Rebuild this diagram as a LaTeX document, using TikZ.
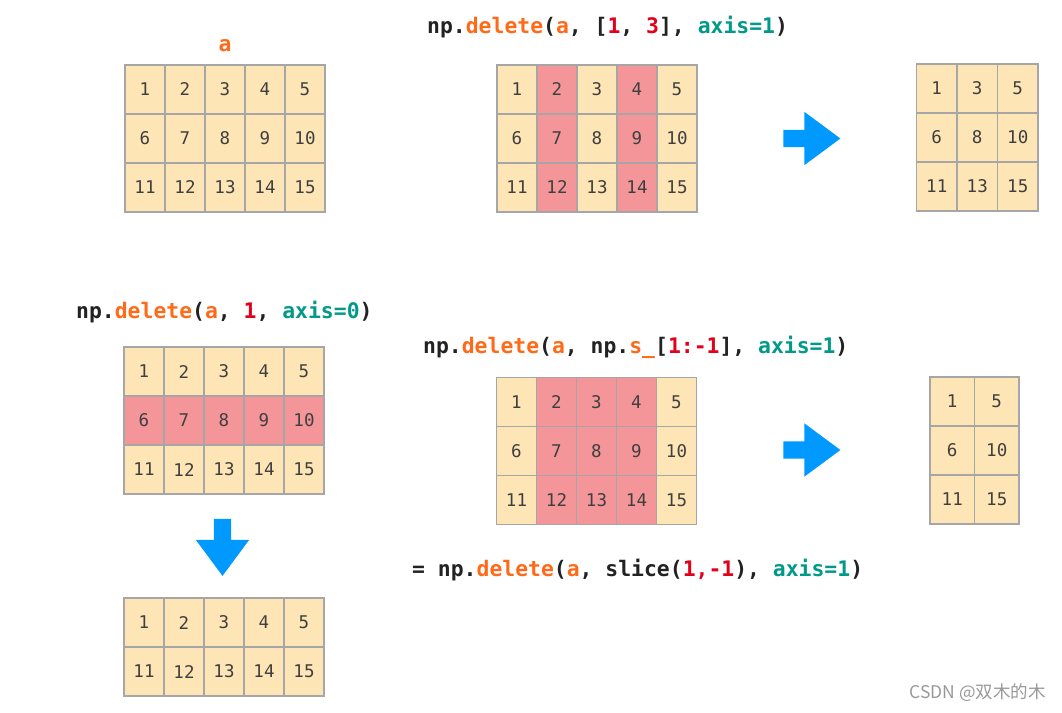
\documentclass[tikz,border=0pt]{standalone}
\usepackage{fontspec}
\setmonofont{DejaVu Sans Mono}
\newfontfamily\cjkfont{Noto Sans CJK SC}
\usetikzlibrary{positioning,shapes.arrows}

\definecolor{cellbg}{HTML}{FEE5B6}
\definecolor{delbg}{HTML}{F49599}
\definecolor{gridgray}{HTML}{A6A6A6}
\definecolor{numgray}{HTML}{3F3F3F}
\definecolor{codeblack}{HTML}{222222}
\definecolor{codeorange}{HTML}{FF6A18}
\definecolor{codered}{HTML}{E3001B}
\definecolor{codeteal}{HTML}{00998A}
\definecolor{arrowblue}{HTML}{0099FF}

\newcommand{\codefont}{\ttfamily\bfseries\fontsize{21.4}{24}\selectfont}
\newcommand{\orng}[1]{\textcolor{codeorange}{#1}}
\newcommand{\rd}[1]{\textcolor{codered}{#1}}
\newcommand{\tl}[1]{\textcolor{codeteal}{#1}}

% grid of numbered cells: name, left x, top y, columns, cell width, value/fill list
\newcommand{\numgrid}[6]{%
  \foreach \v/\f [count=\k from 0] in {#6} {
    \pgfmathtruncatemacro{\col}{mod(\k,#4)}
    \pgfmathtruncatemacro{\row}{div(\k,#4)}
    \node[cell, fill=\f, minimum width=#5pt] (#1-\v)
      at ({#2+(\col+0.5)*#5}, {#3+(\row+0.5)*49}) {\v};
  }}

\begin{document}
\begin{tikzpicture}[x=1pt, y=-1pt, node distance=12pt,
    every node/.style={inner sep=0pt},
    cell/.style={draw=gridgray, line width=1.2pt, minimum height=49pt,
      text=numgray, font=\ttfamily\fontsize{17.5}{20}\selectfont},
    code/.style={anchor=base west, text=codeblack, font=\codefont},
    bigarrow/.style={single arrow, fill=arrowblue, inner sep=8.5pt,
      minimum width=53pt, minimum height=57pt,
      single arrow head extend=18pt, single arrow tip angle=73}]
  \fill[white] (0,0) rectangle (1062,712);
  \useasboundingbox (0,0) rectangle (1062,712);

  % the array a
  \numgrid{a}{125}{65}{5}{40}{1/cellbg,2/cellbg,3/cellbg,4/cellbg,5/cellbg,
    6/cellbg,7/cellbg,8/cellbg,9/cellbg,10/cellbg,
    11/cellbg,12/cellbg,13/cellbg,14/cellbg,15/cellbg}
  \node (alabel) [above=12pt of a-3, text=codeorange, font=\codefont] {a};

  % delete columns 1 and 3
  \node[code] (title1) at (427,33)
    {np.\orng{delete}(\orng{a}, [\rd{1}, \rd{3}], \tl{axis=1})};
  \numgrid{c}{497}{65}{5}{40}{1/cellbg,2/delbg,3/cellbg,4/delbg,5/cellbg,
    6/cellbg,7/delbg,8/cellbg,9/delbg,10/cellbg,
    11/cellbg,12/delbg,13/cellbg,14/delbg,15/cellbg}
  \node[bigarrow] (arr1) at (806,138.5) {};
  \numgrid{d}{916.5}{64}{3}{40.5}{1/cellbg,3/cellbg,5/cellbg,
    6/cellbg,8/cellbg,10/cellbg,11/cellbg,13/cellbg,15/cellbg}

  % delete row 1
  \node[code] (title2) at (76,318)
    {np.\orng{delete}(\orng{a}, \rd{1}, \tl{axis=0})};
  \numgrid{r}{124}{347}{5}{40}{1/cellbg,2/cellbg,3/cellbg,4/cellbg,5/cellbg,
    6/delbg,7/delbg,8/delbg,9/delbg,10/delbg,
    11/cellbg,12/cellbg,13/cellbg,14/cellbg,15/cellbg}
  \node[bigarrow, shape border rotate=270] (arr2) at (222.5,541.5) {};
  \numgrid{s}{124}{598}{5}{40}{1/cellbg,2/cellbg,3/cellbg,4/cellbg,5/cellbg,
    11/cellbg,12/cellbg,13/cellbg,14/cellbg,15/cellbg}

  % delete a slice of columns
  \node[code] (title3) at (423,353)
    {np.\orng{delete}(\orng{a}, np.\orng{s\_}[\rd{1:-1}], \tl{axis=1})};
  \numgrid{m}{496.5}{377.5}{5}{40}{1/cellbg,2/delbg,3/delbg,4/delbg,5/cellbg,
    6/cellbg,7/delbg,8/delbg,9/delbg,10/cellbg,
    11/cellbg,12/delbg,13/delbg,14/delbg,15/cellbg}
  \node[bigarrow] (arr3) at (806,450) {};
  \numgrid{n}{930}{377}{2}{44.5}{1/cellbg,5/cellbg,6/cellbg,10/cellbg,
    11/cellbg,15/cellbg}
  \node[code] (title4) at (412,576)
    {= np.\orng{delete}(\orng{a}, slice(\rd{1,-1}), \tl{axis=1})};

  \node (mark) [anchor=east, text=black!40, font=\cjkfont\fontsize{17.5}{20}\selectfont]
    at (1046,693) {CSDN @双木的木};
\end{tikzpicture}
\end{document}
